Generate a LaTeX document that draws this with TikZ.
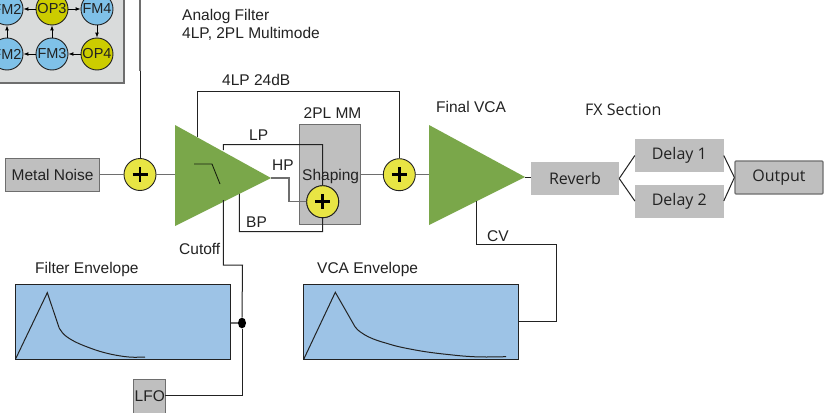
\documentclass[tikz,border=0pt]{standalone}
\usepackage{fontspec}
\setmainfont{Liberation Sans}
\newfontfamily\fxfont{Open Sans}
\usetikzlibrary{calc}
\definecolor{panelgray}{HTML}{D9DBDB}
\definecolor{boxgray}{HTML}{BFBFBF}
\definecolor{fmblue}{HTML}{7FC1E8}
\definecolor{opyellow}{HTML}{CCCC00}
\definecolor{sumyellow}{HTML}{E8E544}
\definecolor{filtgreen}{HTML}{7AA74A}
\definecolor{envblue}{HTML}{9DC3E6}
\definecolor{linegray}{HTML}{6E6E6E}
\definecolor{txt}{HTML}{222222}
\tikzset{
  every node/.style={text=txt,font=\fontsize{15.5}{17}\selectfont},
  lab/.style={anchor=base west,inner sep=0pt},
  op/.style={circle,draw=txt,line width=0.9pt,minimum size=32pt,inner sep=0pt,font=\fontsize{14.5}{16}\selectfont},
  fmop/.style={op,fill=fmblue},
  yop/.style={op,fill=opyellow},
  sumnode/.style={circle,draw=txt,line width=0.9pt,fill=sumyellow,minimum size=32pt,inner sep=0pt,
    path picture={\draw[black,line width=2.5pt]
      ($(path picture bounding box.center)+(-7.5,0)$) -- ($(path picture bounding box.center)+(7.5,0)$)
      ($(path picture bounding box.center)+(0,-7.5)$) -- ($(path picture bounding box.center)+(0,7.5)$);}},
  graybox/.style={draw=linegray,line width=1pt,fill=boxgray,inner sep=0pt},
  fxbox/.style={fill=boxgray,inner sep=0pt,minimum width=88pt,minimum height=33pt,font=\fxfont\fontsize{16}{18}\selectfont},
  envbox/.style={draw=txt,line width=0.9pt,fill=envblue,inner sep=0pt,minimum width=214.5pt,minimum height=75pt},
  wire/.style={draw=txt,line width=1pt},
  gwire/.style={draw=linegray,line width=1.3pt},
  tiny/.style={-latex,black,line width=0.7pt},
}
\begin{document}
\begin{tikzpicture}[x=1pt,y=-1pt]
\useasboundingbox (0,0) rectangle (829,412);
\clip (0,0) rectangle (829,412);
\fill[white] (0,0) rectangle (829,412);

% FM panel
\draw[draw=linegray,line width=1.2pt,fill=panelgray] (-20,-20) rectangle (124,83);
\node[fmop] (fa) at (7,9) {FM2};
\node[yop]  (ob) at (52,9) {OP3};
\node[fmop] (fc) at (97,9) {FM4};
\node[fmop] (fd) at (7,54) {FM2};
\node[fmop] (fe) at (52,54) {FM3};
\node[yop]  (of) at (97,54) {OP4};
\draw[tiny] (ob) -- (fa);
\draw[tiny] (ob) -- (fc);
\draw[tiny] (fc) -- (of);
\draw[tiny] (of) -- (fe);
\draw[tiny] (fe) -- (fd);
\draw[tiny] (fe) -- (ob);
\draw[tiny] (fd) -- (fa);

% Triangles
\coordinate (t1a) at (175,125);
\coordinate (t1b) at (175,226);
\coordinate (t1c) at (271,178);
\coordinate (t2a) at (429,125);
\coordinate (t2b) at (429,225);
\coordinate (t2c) at (525,177);

\node[graybox,minimum width=61pt,minimum height=100.5pt] (shape) at (330.2,174.7) {};

\coordinate (t14lp) at (197.7,137);
\coordinate (tlp) at (223.3,150);
\coordinate (tbp) at (239.3,192);
\coordinate (tcut) at (223.3,200);
\coordinate (tcv) at (476.7,201);

\node[sumnode] (s1) at (140,174.5) {};
\node[sumnode] (s2) at (399.3,174.7) {};
\node[sumnode] (s3) at (322.7,201.7) {};

\node[graybox,minimum width=94pt,minimum height=33pt] (noise) at (52.2,174.5) {};
\node[lab] at (11.5,180) {Metal Noise};

\coordinate (mtop) at (140,0);
\coordinate (mmid) at (140,71);

\draw[draw=linegray,line width=1.4pt] (mtop) -- (mmid);
\draw[wire] (mmid) -- (s1.north);
\draw[gwire] (noise.east) -- (s1.west);
\draw[gwire] (s1.east) -- (175,174.5);
\draw[wire] (t14lp) |- (399.3,91) -- (s2.north);
\draw[wire] (tlp) |- (322.5,144.5) -- (s3.north);
\draw[gwire] (t1c) -- (289,178) |- (s3.west);
\draw[wire] (tbp) |- (322.5,231.7) -- (s3.south);
\draw[gwire] (shape.east) -- (s2.west);
\draw[gwire] (s2.east) -- (t2a |- s2.east);

\fill[filtgreen] (t1a) -- (t1c) -- (t1b) -- cycle;
\fill[filtgreen] (t2a) -- (t2c) -- (t2b) -- cycle;
\draw[draw=black!80!filtgreen,line width=0.9pt] (194,164) -- (212,164) -- (220,184);

\node[sumnode] at (s3) {};

% Envelopes
\node[envbox] (fenv) at (122.8,321.8) {};
\node[envbox] (venv) at (411,321.8) {};
\draw[wire] (15.7,358.7) -- (47.3,292.7) -- (59.3,328.3) .. controls (61,331) and (63,334) .. (66.7,336.7)
  .. controls (74,342) and (82,345) .. (90,348) .. controls (98,351) and (105,353) .. (113.3,354.7)
  .. controls (120,356) and (128,357.3) .. (135,357.3) -- (145,357);
\draw[wire] (303.7,359.3) -- (335.3,292.3) -- (355,326.7) .. controls (358,331) and (362,333) .. (365,335)
  .. controls (372,339) and (380,341.5) .. (386.7,343.3) .. controls (395,346) and (402,347.5) .. (410,349)
  .. controls (425,352) and (438,353.5) .. (450,354.7) .. controls (465,356.5) and (476,357) .. (486.7,357)
  -- (506,356.7);

% Cutoff / LFO
\node[graybox,minimum width=31.5pt,minimum height=40pt] (lfo) at (149.3,399) {};
\node[lab] at (134.5,401) {LFO};
\coordinate (cutb) at (242.5,265);
\node[circle,fill=black,inner sep=0pt,minimum width=8pt,minimum height=8pt,yscale=1.35] (dot) at (242,323) {};
\draw[wire] (tcut) |- (cutb) -- (dot.north);
\draw[wire] (dot.south) |- (lfo.east |- 0,395.7) -- (165,395.7);
\draw[gwire] (fenv.east |- dot) -- (dot.west);

% CV
\draw[wire] (tcv) |- (556,244.7) |- (venv.east |- 0,321.3);

% FX section
\node[fxbox] (rev) at (575,178.5) {Reverb};
\node[fxbox,minimum width=88.5pt] (d1) at (679.3,155.5) {Delay 1};
\node[fxbox,minimum width=88.5pt] (d2) at (679.3,201) {Delay 2};
\node[fxbox,draw=linegray,line width=1.2pt,rounded corners=1pt] (out) at (779,177.5) {Output};
\draw[wire] (t2c) -- (rev.west |- t2c);
\draw[wire] (rev.east) -- (d1.west);
\draw[wire] (rev.east) -- (d2.west);
\draw[wire] (d1.east) -- (out.west);
\draw[wire] (d2.east) -- (out.west);

% labels
\node[lab] at (182,21) {Analog Filter};
\node[lab] at (182,39) {4LP, 2PL Multimode};
\node[lab] at (222,85) {4LP 24dB};
\node[lab] at (303.5,118) {2PL MM};
\node[lab] at (249,140) {LP};
\node[lab] at (272,170) {HP};
\node[lab] at (302,180) {Shaping};
\node[lab] at (246,227) {BP};
\node[lab] at (179,254) {Cutoff};
\node[lab] at (35,273) {Filter Envelope};
\node[lab] at (317,273) {VCA Envelope};
\node[lab] at (487,241) {CV};
\node[lab] at (436,112) {Final VCA};
\node[lab,font=\fxfont\fontsize{16}{18}\selectfont] at (585,115) {FX Section};
\end{tikzpicture}
\end{document}
